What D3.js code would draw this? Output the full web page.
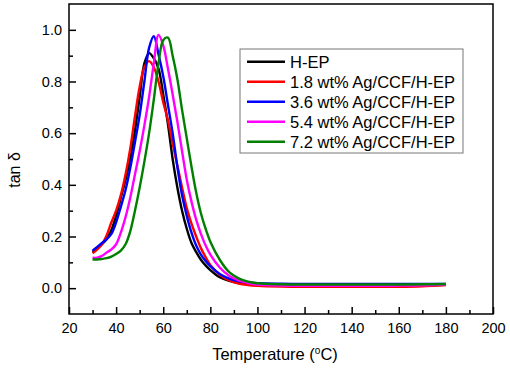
<!DOCTYPE html>
<html>
<head>
<meta charset="utf-8">
<script src="https://cdn.jsdelivr.net/npm/d3@7"></script>
<style>
  body { margin: 0; background: #fff; }
  svg { display: block; font-family: "Liberation Sans", Arial, sans-serif; }
</style>
</head>
<body>
<svg id="chart" width="510" height="370"></svg>
<script>
// temperature grid (°C) shared by all series
const temps = [30, 32, 34, 36, 38, 40, 42, 44, 46, 48, 50, 52, 54, 56, 58, 60, 62, 64, 66, 68,
	70, 72, 74, 76, 78, 80, 84, 88, 92, 96, 100, 110, 120, 130, 140, 150, 160, 170, 180];

const seriesNames = ["H-EP", "1.8 wt% Ag/CCF/H-EP", "3.6 wt% Ag/CCF/H-EP", "5.4 wt% Ag/CCF/H-EP", "7.2 wt% Ag/CCF/H-EP"];
const seriesColors = ["#000000", "#ff0000", "#0000ff", "#ff00ff", "#007f00"];

const hep = [0.140, 0.155, 0.170, 0.190, 0.225, 0.280, 0.350, 0.420, 0.500, 0.610, 0.740, 0.870, 0.910, 0.890, 0.850, 0.750, 0.635, 0.500, 0.390, 0.300,
	0.230, 0.175, 0.140, 0.110, 0.088, 0.070, 0.042, 0.028, 0.020, 0.016, 0.014, 0.013, 0.012, 0.012, 0.012, 0.012, 0.012, 0.012, 0.013];
const ag18 = [0.135, 0.150, 0.170, 0.205, 0.255, 0.300, 0.360, 0.440, 0.540, 0.665, 0.780, 0.855, 0.879, 0.855, 0.800, 0.720, 0.650, 0.560, 0.475, 0.390,
	0.310, 0.250, 0.200, 0.155, 0.120, 0.090, 0.052, 0.030, 0.018, 0.012, 0.009, 0.006, 0.005, 0.005, 0.005, 0.005, 0.005, 0.007, 0.012];
const ag36 = [0.145, 0.160, 0.175, 0.190, 0.210, 0.255, 0.315, 0.380, 0.465, 0.565, 0.670, 0.800, 0.930, 0.975, 0.905, 0.820, 0.710, 0.600, 0.470, 0.360,
	0.280, 0.215, 0.165, 0.130, 0.105, 0.085, 0.055, 0.037, 0.027, 0.022, 0.019, 0.017, 0.016, 0.016, 0.016, 0.016, 0.016, 0.016, 0.016];
const ag54 = [0.118, 0.118, 0.125, 0.138, 0.150, 0.170, 0.215, 0.275, 0.350, 0.440, 0.530, 0.630, 0.740, 0.870, 0.980, 0.940, 0.850, 0.750, 0.645, 0.530,
	0.420, 0.335, 0.265, 0.210, 0.165, 0.130, 0.080, 0.048, 0.030, 0.020, 0.014, 0.010, 0.009, 0.009, 0.009, 0.009, 0.010, 0.011, 0.014];
const ag72 = [0.111, 0.111, 0.113, 0.116, 0.122, 0.132, 0.145, 0.170, 0.220, 0.300, 0.390, 0.490, 0.600, 0.730, 0.870, 0.960, 0.970, 0.900, 0.810, 0.690,
	0.580, 0.470, 0.370, 0.290, 0.230, 0.180, 0.110, 0.062, 0.038, 0.025, 0.019, 0.015, 0.014, 0.014, 0.014, 0.014, 0.014, 0.015, 0.016];

const seriesValues = [hep, ag18, ag36, ag54, ag72];

const xMajor = d3.range(20, 201, 20);
const xMinor = d3.range(30, 200, 20);
const yMajor = [0, 0.2, 0.4, 0.6, 0.8, 1.0];
const yMinor = [0.1, 0.3, 0.5, 0.7, 0.9];

const svg = d3.select("#chart");
const margin = {top: 4, right: 17, bottom: 56, left: 69};
const width = 510 - margin.left - margin.right;
const height = 370 - margin.top - margin.bottom;

const x = d3.scaleLinear().domain([20, 200]).range([0, width]);
const y = d3.scaleLinear().domain([-0.1, 1.1]).range([height, 0]);

const g = svg.append("g").attr("transform", `translate(${margin.left},${margin.top})`);

// curves
const line = d3.line()
	.x(d => x(d[0]))
	.y(d => y(d[1]))
	.curve(d3.curveCatmullRom.alpha(0.5));

seriesValues.forEach((vals, i) => {
	g.append("path")
		.datum(temps.map((t, j) => [t, vals[j]]))
		.attr("fill", "none")
		.attr("stroke", seriesColors[i])
		.attr("stroke-width", 2.4)
		.attr("d", line);
});

// axes, ticks pointing inward
const xAxis = g.append("g")
	.attr("transform", `translate(0,${height})`)
	.call(d3.axisBottom(x).tickValues(xMajor).tickSize(-7).tickPadding(9).tickFormat(d3.format("d")));
g.append("g")
	.attr("transform", `translate(0,${height})`)
	.call(d3.axisBottom(x).tickValues(xMinor).tickSize(-4).tickFormat(""));

const yAxis = g.append("g")
	.call(d3.axisLeft(y).tickValues(yMajor).tickSize(-7).tickPadding(7).tickFormat(d3.format(".1f")));
g.append("g")
	.call(d3.axisLeft(y).tickValues(yMinor).tickSize(-4).tickFormat(""));

g.selectAll(".domain").remove();
g.selectAll(".tick line").attr("stroke", "#000").attr("stroke-width", 1.5);
g.selectAll(".tick text")
	.attr("fill", "#000")
	.style("font-size", "14.5px")
	.style("font-family", "'Liberation Sans', Arial, sans-serif");

// frame
g.append("rect")
	.attr("width", width)
	.attr("height", height)
	.attr("fill", "none")
	.attr("stroke", "#000")
	.attr("stroke-width", 1.5);

// axis titles
const xTitle = svg.append("text")
	.attr("x", margin.left + width / 2 - 6)
	.attr("y", 360)
	.attr("text-anchor", "middle")
	.style("font-size", "16.5px")
	.attr("fill", "#000");
xTitle.append("tspan").text("Temperature (");
xTitle.append("tspan").attr("dy", -6).style("font-size", "10px").text("o");
xTitle.append("tspan").attr("dy", 6).text("C)");

svg.append("text")
	.attr("transform", "translate(20,170) rotate(-90)")
	.attr("text-anchor", "middle")
	.style("font-size", "16px")
	.attr("fill", "#000")
	.text("tan δ");

// legend
const legend = svg.append("g").attr("transform", "translate(240,49)");
legend.append("rect")
	.attr("width", 223)
	.attr("height", 104)
	.attr("fill", "#fff")
	.attr("stroke", "#777")
	.attr("stroke-width", 1);

seriesNames.forEach((name, i) => {
	const row = legend.append("g").attr("transform", `translate(0,${12.7 + i * 20})`);
	row.append("line")
		.attr("x1", 7).attr("x2", 45)
		.attr("stroke", seriesColors[i])
		.attr("stroke-width", 2.4);
	row.append("text")
		.attr("x", 50)
		.attr("dy", "0.36em")
		.style("font-size", "16.5px")
		.attr("fill", "#000")
		.text(name);
});
</script>
</body>
</html>
